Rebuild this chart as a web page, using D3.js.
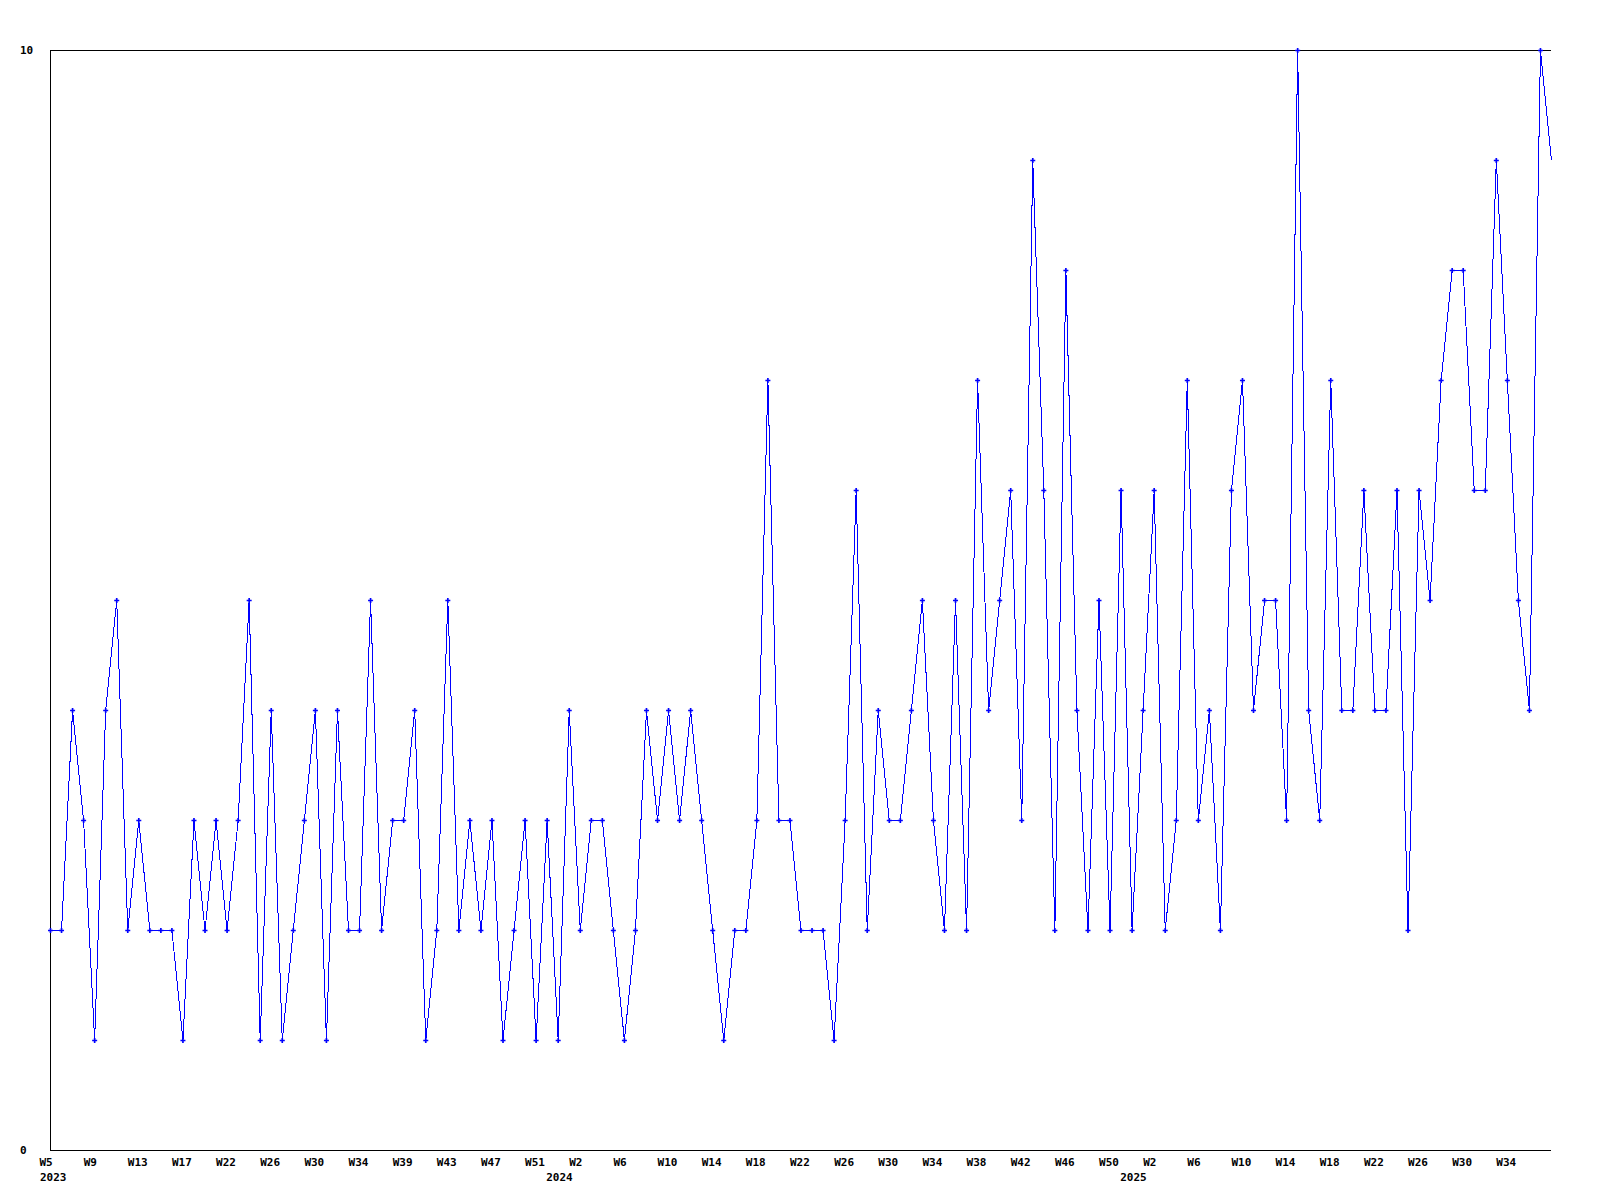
<!DOCTYPE html>
<html>
<head>
<meta charset="utf-8">
<script src="https://cdn.jsdelivr.net/npm/d3@7"></script>
<style>
  html, body { margin: 0; padding: 0; background: #ffffff; }
  svg { display: block; }
  text { font-family: "DejaVu Sans Mono", "Liberation Mono", monospace; font-weight: bold; font-size: 11px; fill: #000; }
</style>
</head>
<body>
<svg id="chart" width="1600" height="1200"></svg>
<script>
// ---- data ----
const values = [
  2,2,4,3,1,4,5,2,3,2,
  2,2,1,3,2,3,2,3,5,1,
  4,1,2,3,4,1,4,2,2,5,
  2,3,3,4,1,2,5,2,3,2,
  3,1,2,3,1,3,1,4,2,3,
  3,2,1,2,4,3,4,3,4,3,
  2,1,2,2,3,7,3,3,2,2,
  2,1,3,6,2,4,3,3,4,5,
  3,2,5,2,7,4,5,6,3,9,
  6,2,8,4,2,5,2,6,2,4,
  6,2,3,7,3,4,2,6,7,4,
  5,5,3,10,4,3,7,4,4,6,
  4,4,6,2,6,5,7,8,8,6,
  6,9,7,5,4,10,9
];
const weekLabels = ["W5","W9","W13","W17","W22","W26","W30","W34","W39","W43","W47","W51",
  "W2","W6","W10","W14","W18","W22","W26","W30","W34","W38","W42","W46","W50",
  "W2","W6","W10","W14","W18","W22","W26","W30","W34"];
const weekLabelStep = 4;               // one week label every 4 points
const yearLabels = ["2023","2024","2025"];
const yearLabelAt = [0, 12, 25];       // index into weekLabels under which the year sits
const yTickValues = [0, 10];

// ---- layout ----
const plotLeft = 50, plotRight = 1551, plotTop = 50, plotBottom = 1150;
const svg = d3.select("#chart");

const x = d3.scaleLinear().domain([0, values.length - 1]).range([plotLeft, plotRight]);
const y = d3.scaleLinear().domain([0, 10]).range([plotBottom, plotTop]);

// frame: left, top, bottom lines
const frame = svg.append("g").attr("shape-rendering", "crispEdges")
  .attr("stroke", "#000").attr("stroke-width", 1);
frame.append("line").attr("x1", plotLeft + 0.5).attr("x2", plotLeft + 0.5).attr("y1", plotTop).attr("y2", plotBottom + 1);
frame.append("line").attr("x1", plotLeft).attr("x2", plotRight).attr("y1", y(10) + 0.5).attr("y2", y(10) + 0.5);
frame.append("line").attr("x1", plotLeft).attr("x2", plotRight).attr("y1", y(0) + 0.5).attr("y2", y(0) + 0.5);

// y labels
svg.append("g").selectAll("text").data(yTickValues).join("text")
  .attr("x", 20).attr("y", d => y(d) + 4)
  .text(d => d);

// week labels
svg.append("g").selectAll("text").data(weekLabels).join("text")
  .attr("x", (d, i) => x(i * weekLabelStep) - 10.5)
  .attr("y", 1166)
  .text(d => d);

// year labels
svg.append("g").selectAll("text").data(yearLabels).join("text")
  .attr("x", (d, i) => Math.max(40, x(yearLabelAt[i] * weekLabelStep) - 33.5))
  .attr("y", 1181)
  .text(d => d);

// series line
const line = d3.line().x((d, i) => x(i) + 0.5).y(d => y(d) + 0.5);
svg.append("path").datum(values)
  .attr("d", line)
  .attr("fill", "none")
  .attr("stroke", "#0000ff")
  .attr("stroke-width", 1)
  .attr("shape-rendering", "crispEdges");

// markers (last, partial-week point is drawn without a marker)
const sym = d3.symbol().type(d3.symbolCross).size(14);
svg.append("g").selectAll("path").data(values.slice(0, values.length - 1)).join("path")
  .attr("transform", (d, i) => `translate(${x(i) + 0.5},${y(d) + 0.5})`)
  .attr("d", sym)
  .attr("fill", "#0000ff");
</script>
</body>
</html>
